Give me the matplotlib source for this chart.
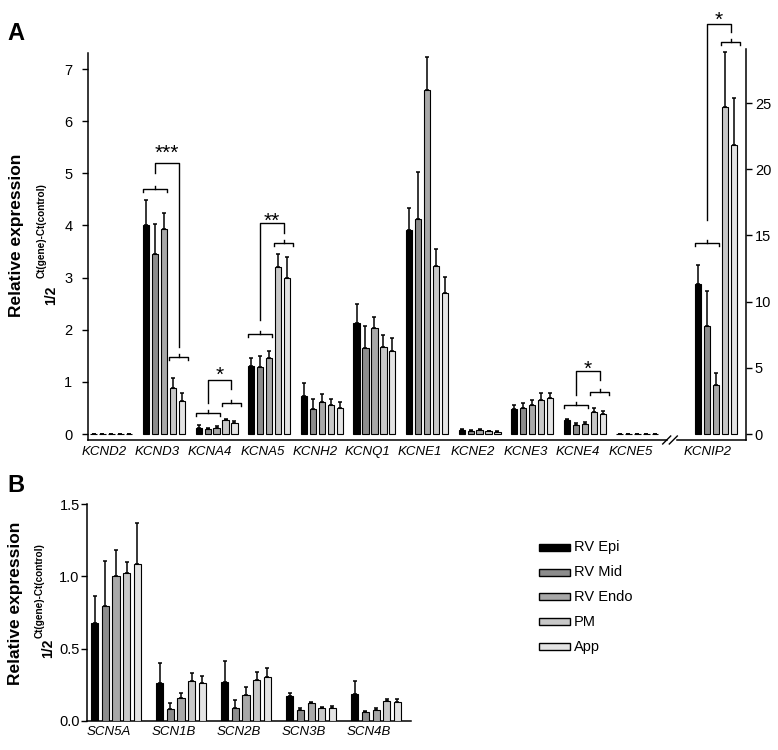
import numpy as np
import matplotlib
matplotlib.use("Agg")
import matplotlib.pyplot as plt
from matplotlib.lines import Line2D
from matplotlib.patches import Rectangle

plt.rcParams['font.family'] = ['Liberation Sans', 'DejaVu Sans']

# series (regions) and bar colours
series = ['RV Epi', 'RV Mid', 'RV Endo', 'PM', 'App']
colors = ['#000000', '#8c8c8c', '#a8a8a8', '#c8c8c8', '#e4e4e4']

# panel A, left axis genes
genes_a = ['KCND2', 'KCND3', 'KCNA4', 'KCNA5', 'KCNH2', 'KCNQ1',
           'KCNE1', 'KCNE2', 'KCNE3', 'KCNE4', 'KCNE5']
mean_a = [
    [0, 0, 0, 0, 0],
    [4.00, 3.46, 3.93, 0.88, 0.64],
    [0.11, 0.09, 0.11, 0.26, 0.21],
    [1.30, 1.28, 1.45, 3.20, 3.00],
    [0.72, 0.47, 0.61, 0.56, 0.50],
    [2.12, 1.64, 2.04, 1.67, 1.60],
    [3.92, 4.13, 6.60, 3.22, 2.70],
    [0.07, 0.05, 0.07, 0.05, 0.04],
    [0.47, 0.49, 0.55, 0.66, 0.70],
    [0.26, 0.18, 0.20, 0.43, 0.39],
    [0, 0, 0, 0, 0],
]
err_a = [
    [0, 0, 0, 0, 0],
    [0.49, 0.57, 0.30, 0.19, 0.14],
    [0.06, 0.03, 0.04, 0.02, 0.03],
    [0.16, 0.22, 0.15, 0.26, 0.40],
    [0.25, 0.21, 0.16, 0.11, 0.11],
    [0.38, 0.43, 0.20, 0.22, 0.24],
    [0.42, 0.90, 0.63, 0.32, 0.31],
    [0.02, 0.02, 0.02, 0.01, 0.01],
    [0.09, 0.11, 0.11, 0.13, 0.09],
    [0.02, 0.03, 0.03, 0.07, 0.05],
    [0, 0, 0, 0, 0],
]

# panel A, right axis gene
genes_r = ['KCNIP2']
mean_r = [[11.3, 8.13, 3.68, 24.7, 21.8]]
err_r = [[1.5, 2.67, 0.92, 4.15, 3.6]]

# panel B
genes_b = ['SCN5A', 'SCN1B', 'SCN2B', 'SCN3B', 'SCN4B']
mean_b = [
    [0.677, 0.797, 1.006, 1.025, 1.087],
    [0.260, 0.081, 0.155, 0.276, 0.262],
    [0.269, 0.090, 0.180, 0.283, 0.306],
    [0.172, 0.074, 0.120, 0.090, 0.090],
    [0.185, 0.058, 0.076, 0.137, 0.130],
]
err_b = [
    [0.185, 0.309, 0.176, 0.078, 0.285],
    [0.143, 0.039, 0.040, 0.058, 0.046],
    [0.148, 0.054, 0.056, 0.053, 0.058],
    [0.018, 0.012, 0.007, 0.005, 0.010],
    [0.093, 0.012, 0.012, 0.011, 0.020],
]

# significance: (gene, stars, bracket1 y, left bottom, top, right bottom, bracket2 y, star y)
sig_a = [
    ('KCND3', '***', 4.69, 5.00, 5.19, 1.67, 1.48, 5.51),
    ('KCNA4', '*', 0.40, 0.59, 1.04, 0.86, 0.59, 1.25),
    ('KCNA5', '**', 1.92, 2.19, 4.05, 3.85, 3.66, 4.20),
    ('KCNE4', '*', 0.556, 0.75, 1.21, 1.04, 0.81, 1.37),
]
sig_r = [('KCNIP2', '*', 14.43, 16.2, 30.97, 30.39, 29.6, 31.77)]


def draw_bars(ax, means, errs, pitch, width):
    m = np.array(means)
    e = np.array(errs)
    x = np.arange(m.shape[0])
    for k in range(len(series)):
        xs = x + (k - 2) * pitch
        ax.bar(xs, m[:, k], width, color=colors[k], edgecolor='black',
               linewidth=0.8, zorder=3, label=series[k])
        ax.errorbar(xs, m[:, k], yerr=[np.zeros(len(x)), e[:, k]], fmt='none',
                    ecolor='black', elinewidth=1.1, capsize=1.6, capthick=1.1,
                    zorder=2)


def bracket(ax, xc, half, y, tick):
    kw = dict(color='black', lw=1.0, clip_on=False, zorder=4)
    ax.plot([xc - half, xc - half, xc + half, xc + half],
            [y - tick, y, y, y - tick], **kw)
    ax.plot([xc, xc], [y, y + tick], **kw)


def draw_sig(ax, genes, sigs, pitch, width, tick):
    kw = dict(color='black', lw=1.0, clip_on=False, zorder=4)
    for g, stars, b1, lb, top, rb, b2, sy in sigs:
        c = genes.index(g)
        x1 = c - pitch
        x2 = c + 1.65 * pitch
        bracket(ax, x1, pitch + width / 2, b1, tick)
        bracket(ax, x2, 0.18, b2, tick)
        ax.plot([x1, x1, x2, x2], [lb, top, top, rb], **kw)
        ax.annotate(stars, xy=((x1 + x2) / 2, sy), xytext=(0, -0.58 * 15),
                    textcoords='offset points', ha='center', va='baseline',
                    fontsize=15, annotation_clip=False)


W, H = 778, 750
fig = plt.figure(figsize=(W / 100, H / 100), dpi=100)


def fx(px):
    return px / W


def fy(py):
    return 1 - py / H


pitch_a, width_a = 0.17, 0.12

# panel A, left part
ax1 = fig.add_axes([fx(88), fy(440), fx(666.5 - 88), fy(53) - fy(440)])
draw_bars(ax1, mean_a, err_a, pitch_a, width_a)
draw_sig(ax1, genes_a, sig_a, pitch_a, width_a, 0.058)
ax1.set_xlim(-0.445, 10.553)
ax1.set_ylim(-0.115, 7.307)
ax1.set_yticks(range(8))
ax1.set_xticks(np.arange(len(genes_a)) - 0.13)
ax1.set_xticklabels(genes_a, fontstyle='italic', fontsize=9.5)
ax1.tick_params(axis='x', length=0, pad=4)
ax1.tick_params(axis='y', length=4.3, width=1, pad=7, labelsize=10.5)
for s in ['top', 'right']:
    ax1.spines[s].set_visible(False)
for s in ['left', 'bottom']:
    ax1.spines[s].set_linewidth(1.1)

# panel A, right part
ax2 = fig.add_axes([fx(677), fy(440), fx(746 - 677), fy(49) - fy(440)])
draw_bars(ax2, mean_r, err_r, pitch_a, width_a)
draw_sig(ax2, genes_r, sig_r, pitch_a, width_a, 0.23)
ax2.set_xlim(-0.741, 0.570)
ax2.set_ylim(-0.453, 29.08)
ax2.yaxis.tick_right()
ax2.set_yticks(range(0, 30, 5))
ax2.set_xticks([-0.16])
ax2.set_xticklabels(genes_r, fontstyle='italic', fontsize=9.5)
ax2.tick_params(axis='x', length=0, pad=4)
ax2.tick_params(axis='y', length=4.3, width=1, pad=2, labelsize=10.5)
for s in ['top', 'left']:
    ax2.spines[s].set_visible(False)
for s in ['right', 'bottom']:
    ax2.spines[s].set_linewidth(1.1)

# axis break marks
for x0 in [662.7, 669.3]:
    fig.add_artist(Line2D([fx(x0), fx(x0 + 8)], [fy(444), fy(436)],
                          color='black', lw=1.0, transform=fig.transFigure))

# panel B
pitch_b, width_b = 0.163, 0.108
ax3 = fig.add_axes([fx(87), fy(720.7), fx(411 - 87), fy(504.3) - fy(720.7)])
draw_bars(ax3, mean_b, err_b, pitch_b, width_b)
ax3.set_xlim(-0.446, 4.538)
ax3.set_ylim(0, 1.5)
ax3.set_yticks([0, 0.5, 1.0, 1.5])
ax3.set_yticklabels(['0.0', '0.5', '1.0', '1.5'])
ax3.set_xticks(np.arange(len(genes_b)) - 0.108)
ax3.set_xticklabels(genes_b, fontstyle='italic', fontsize=9.5)
ax3.tick_params(axis='x', length=0, pad=4)
ax3.tick_params(axis='y', length=4.3, width=1, pad=1, labelsize=10.5)
for s in ['top', 'right']:
    ax3.spines[s].set_visible(False)
for s in ['left', 'bottom']:
    ax3.spines[s].set_linewidth(1.1)

# y labels
for xc, yc, x12, y12, xs, ys in [(16.7, 235, 51, 305, 42, 278),
                                 (16, 603, 48, 658, 40, 638)]:
    fig.text(fx(xc), fy(yc), 'Relative expression', rotation=90, ha='center',
             va='center', fontsize=12.5, fontweight='bold')
    fig.text(fx(x12), fy(y12), '1/2', rotation=90, ha='center', va='bottom',
             fontsize=10, fontweight='bold')
    fig.text(fx(xs), fy(ys), 'Ct(gene)-Ct(control)', rotation=90, ha='center',
             va='bottom', fontsize=7.2, fontweight='bold')

# panel letters
fig.text(fx(7), fy(40), 'A', fontsize=17, fontweight='bold', va='baseline')
fig.text(fx(7), fy(492), 'B', fontsize=17, fontweight='bold', va='baseline')

# legend
for k, name in enumerate(series):
    yc = 547.3 + 24.8 * k
    fig.add_artist(Rectangle((fx(539), fy(yc + 3.5)), fx(31), 7 / H,
                             facecolor=colors[k], edgecolor='black', lw=1.0,
                             transform=fig.transFigure))
    fig.text(fx(574), fy(yc), name, fontsize=10.5, va='center', ha='left')

fig.savefig('out.png', dpi=100)
